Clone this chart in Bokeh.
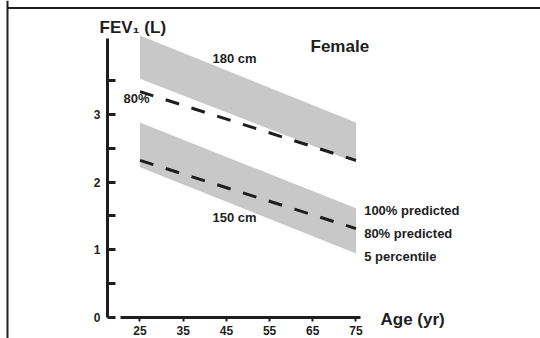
from bokeh.plotting import figure
from bokeh.models import Range1d, LinearAxis, FixedTicker
from bokeh.core.properties import value
from bokeh.embed import file_html
from bokeh.resources import INLINE

# ---- data ----
ages = [25, 75]
tall_100 = [4.17, 2.88]   # 180 cm, 100% predicted
tall_80 = [3.34, 2.32]    # 180 cm, 80% predicted
tall_5 = [3.53, 2.29]     # 180 cm, 5th percentile
short_100 = [2.88, 1.61]  # 150 cm, 100% predicted
short_80 = [2.32, 1.31]   # 150 cm, 80% predicted
short_5 = [2.22, 0.94]    # 150 cm, 5th percentile

x_ticks = [25, 35, 45, 55, 65, 75]
y_ticks = [0, 1, 2, 3]
y_minor = [0.5, 1.5, 2.5, 3.5]

# annotation texts with data positions (vertical centre of capitals)
big_text = ["FEV\u2081 (L)", "Female", "Age (yr)"]
big_x = [15.63, 64.47, 80.67]
big_y = [4.296, 4.007, -0.030]

small_text = ["180 cm", "150 cm", "80%", "100% predicted", "80% predicted", "5 percentile"]
small_x = [41.78, 41.78, 21.18, 76.89, 76.89, 76.89]
small_y = [3.830, 1.474, 3.230, 1.578, 1.244, 0.896]

# picture frame: top edge and left edge
frame_top = 4.578
frame_left = -5.56
frame_right = 117.71

INK = "#1e1e1e"
BAND = "#c8c8c8"
FONT = "Liberation Sans"

p = figure(width=540, height=338, output_backend="svg", toolbar_location=None,
           x_range=Range1d(-7.29, 117.71), y_range=Range1d(-0.3185, 4.689),
           x_axis_location=None, y_axis_location=None,
           min_border=0, min_border_left=0, min_border_right=0,
           min_border_top=0, min_border_bottom=0)
p.title.visible = False
p.outline_line_color = None
p.background_fill_color = "white"
p.border_fill_color = "white"
for g in p.grid:
    g.visible = False

# frame lines (top and left)
p.segment(x0=[frame_left], y0=[frame_top], x1=[frame_right], y1=[frame_top],
          line_color=INK, line_width=2)
p.vspan(x=[frame_left], line_color=INK, line_width=2)

# bands
p.varea(x=ages, y1=tall_5, y2=tall_100, fill_color=BAND)
p.varea(x=ages, y1=short_5, y2=short_100, fill_color=BAND)

# 80% predicted dashed lines
p.line(ages, tall_80, line_color=INK, line_width=3, line_dash="14 13")
p.line(ages, short_80, line_color=INK, line_width=3, line_dash="14 13")

# axes
yax = LinearAxis(fixed_location=17.48, bounds=(0, 4.126),
                 ticker=FixedTicker(ticks=y_ticks, minor_ticks=y_minor))
yax.axis_line_width = 3
yax.axis_line_color = INK
yax.major_tick_line_width = 3
yax.major_tick_line_color = INK
yax.minor_tick_line_width = 3
yax.minor_tick_line_color = INK
yax.major_tick_in = 8
yax.major_tick_out = 0
yax.minor_tick_in = 8
yax.minor_tick_out = 0
yax.major_label_standoff = 7
yax.major_label_text_font = FONT
yax.major_label_text_font_style = "bold"
yax.major_label_text_font_size = "12px"
yax.major_label_text_color = INK
p.add_layout(yax, "left")

xax = LinearAxis(fixed_location=0, bounds=(20.5, 76),
                 ticker=FixedTicker(ticks=x_ticks, minor_ticks=[]))
xax.axis_line_width = 3
xax.axis_line_color = INK
xax.major_tick_line_width = 2
xax.major_tick_line_color = INK
xax.major_tick_in = 0
xax.major_tick_out = 4
xax.minor_tick_in = 0
xax.minor_tick_out = 0
xax.major_label_standoff = 5
xax.major_label_text_font = FONT
xax.major_label_text_font_style = "bold"
xax.major_label_text_font_size = "12px"
xax.major_label_text_color = INK
p.add_layout(xax, "below")

# texts
p.text(x=big_x, y=big_y, text=big_text, text_font=value(FONT), text_font_style="bold",
       text_font_size="17px", text_color=INK, text_align="left", text_baseline="middle")
p.text(x=small_x, y=small_y, text=small_text, text_font=value(FONT), text_font_style="bold",
       text_font_size="13px", text_color=INK, text_align="left", text_baseline="middle")

open("out.html", "w").write(file_html(p, INLINE))
